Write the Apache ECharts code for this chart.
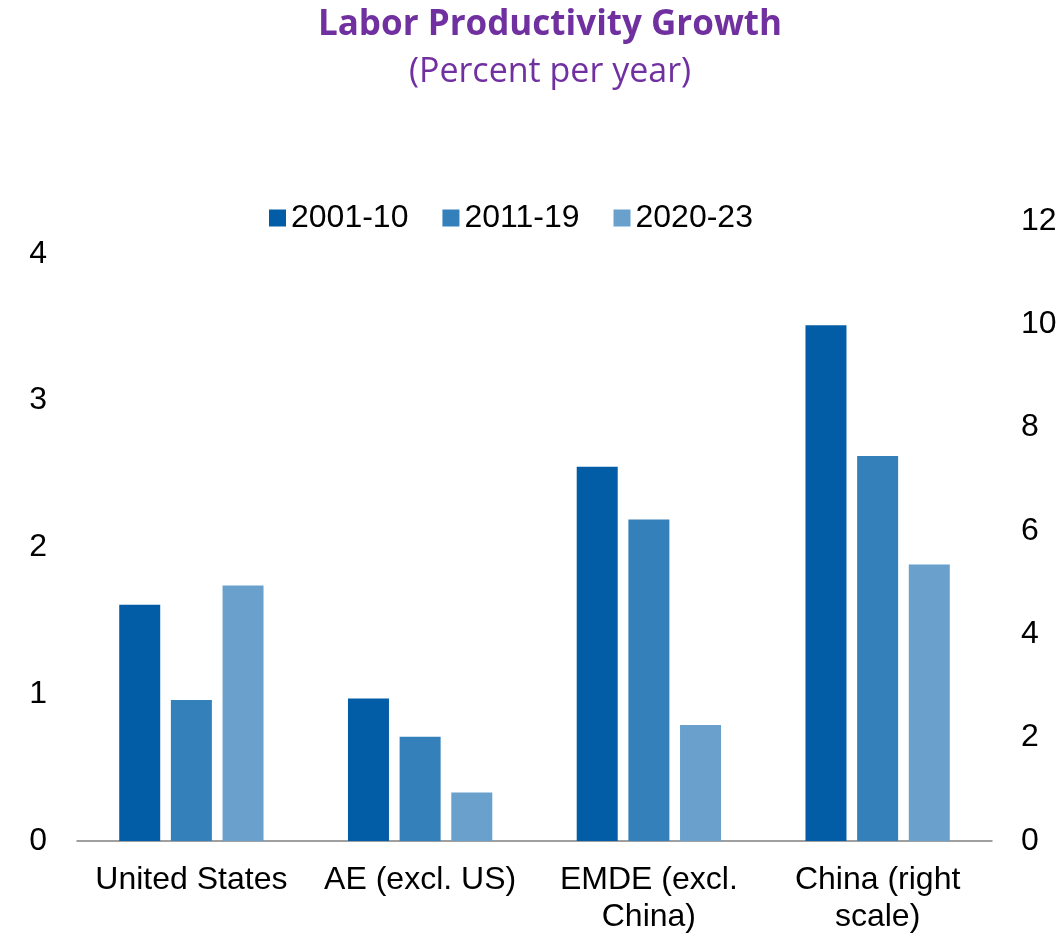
<!DOCTYPE html>
<html>
<head>
<meta charset="utf-8">
<script src="https://cdn.jsdelivr.net/npm/echarts@6/dist/echarts.min.js"></script>
<style>
  html, body { margin: 0; padding: 0; background: #fff; }
  #chart { width: 1063px; height: 936px; }
</style>
</head>
<body>
<div id="chart"></div>
<script>
// Labor productivity growth, percent per year
const categories = ['United States', 'AE (excl. US)', 'EMDE (excl.\nChina)', 'China (right\nscale)'];
const periods = ['2001-10', '2011-19', '2020-23'];
const colors = ['#025DA6', '#3480BB', '#69A0CC'];

// Left-scale groups (US, AE, EMDE); China is drawn on the right scale
const leftValues = [
  [1.61, 0.97, 2.55],   // 2001-10
  [0.96, 0.71, 2.19],   // 2011-19
  [1.74, 0.33, 0.79]    // 2020-23
];
const chinaValues = [9.98, 7.45, 5.35];

const leftTicks = [0, 1, 2, 3, 4];
const rightTicks = [0, 2, 4, 6, 8, 10, 12];

const chart = echarts.init(document.getElementById('chart'));

const labelFont = { fontFamily: 'Liberation Sans, Arial, sans-serif', fontSize: 32, color: '#000' };
const barOpts = { barWidth: 41, barGap: '26%' };

const series = [];
periods.forEach((p, i) => {
  series.push(Object.assign({
    name: p, type: 'bar', xAxisIndex: 0, yAxisIndex: 0,
    itemStyle: { color: colors[i] },
    data: leftValues[i].concat(['-'])
  }, barOpts));
});
periods.forEach((p, i) => {
  series.push(Object.assign({
    name: p, type: 'bar', xAxisIndex: 1, yAxisIndex: 1,
    itemStyle: { color: colors[i] },
    data: ['-', '-', '-', chinaValues[i]]
  }, barOpts));
});

chart.setOption({
  animation: false,
  title: [
    {
      text: 'Labor Productivity Growth',
      left: 545, top: 3, textAlign: 'center',
      textStyle: { fontFamily: 'Open Sans, Noto Sans, sans-serif', fontWeight: 'bold', fontSize: 35, color: '#7030A0' }
    },
    {
      text: '(Percent per year)',
      left: 545, top: 50, textAlign: 'center',
      textStyle: { fontFamily: 'Open Sans, Noto Sans, sans-serif', fontWeight: 'normal', fontSize: 34, color: '#7030A0' }
    }
  ],
  legend: {
    data: periods,
    top: 197, left: 264,
    itemWidth: 17, itemHeight: 17, itemGap: 34,
    icon: 'rect',
    textStyle: { fontFamily: 'Liberation Sans, Arial, sans-serif', fontSize: 32, color: '#000' }
  },
  grid: { left: 77, right: 71, top: 221, bottom: 91, containLabel: false },
  xAxis: [
    {
      type: 'category', data: categories,
      axisLine: { show: true, lineStyle: { color: '#808080', width: 1.5 } },
      axisTick: { show: false },
      axisLabel: Object.assign({ margin: 21, lineHeight: 37, interval: 0 }, labelFont)
    },
    {
      type: 'category', data: categories, show: false
    }
  ],
  yAxis: [
    {
      type: 'value', min: leftTicks[0], max: 4.224, interval: 1,
      axisLine: { show: false }, axisTick: { show: false }, splitLine: { show: false },
      axisLabel: Object.assign({
        margin: 30, showMaxLabel: false,
        formatter: v => leftTicks.includes(v) ? String(v) : ''
      }, labelFont)
    },
    {
      type: 'value', min: rightTicks[0], max: rightTicks[rightTicks.length - 1], interval: 2,
      position: 'right',
      axisLine: { show: false }, axisTick: { show: false }, splitLine: { show: false },
      axisLabel: Object.assign({ margin: 29 }, labelFont)
    }
  ],
  series: series
});
</script>
</body>
</html>
